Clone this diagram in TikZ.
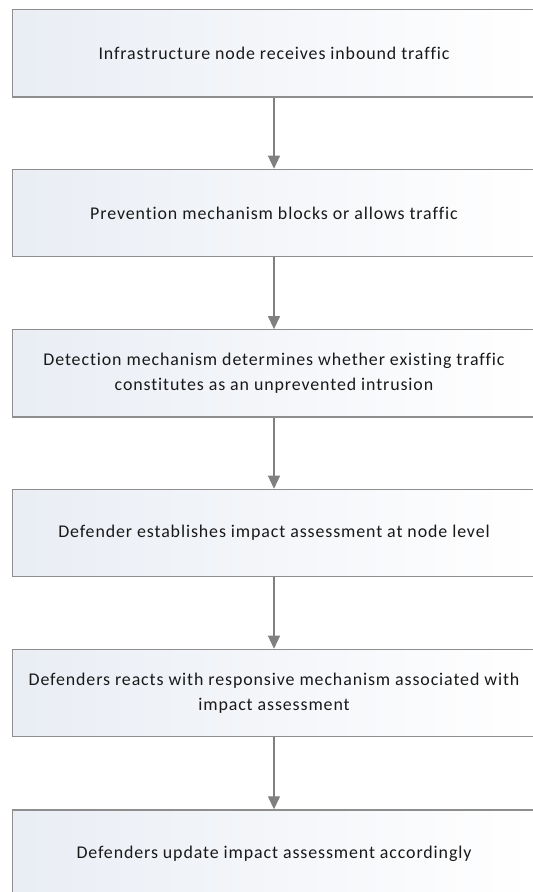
\documentclass[tikz,border=0pt]{standalone}
\usepackage{fontspec}
\setmainfont{Carlito}[Ligatures=NoCommon, LetterSpace=5]
\usetikzlibrary{arrows.meta}
\definecolor{boxline}{HTML}{8E8E8E}
\definecolor{arrowcol}{HTML}{808080}
\definecolor{shadeL}{HTML}{E9EDF4}
\tikzset{
  stepbox/.style={draw=boxline, line width=1.3pt, left color=shadeL, right color=white,
    minimum width=522.6pt, minimum height=87.3pt, inner sep=0pt, align=center,
    font=\fontsize{17.9pt}{25pt}\selectfont, text=black!90},
  conn/.style={draw=arrowcol, line width=1.3pt, -{Triangle[length=13pt,width=12pt]}}
}
\begin{document}
\begin{tikzpicture}[x=1pt,y=-1pt]
\useasboundingbox (0,0) rectangle (533,892);
\clip (0,0) rectangle (533,892);
\fill[white] (0,0) rectangle (533,892);
\node[stepbox] (b1) at (274,53.2) {Infrastructure node receives inbound traffic};
\node[stepbox] (b2) at (274,213.0) {Prevention mechanism blocks or allows traffic};
\node[stepbox] (b3) at (274,373.4) {Detection mechanism determines whether existing traffic\\constitutes as an unprevented intrusion};
\node[stepbox] (b4) at (274,533.0) {Defender establishes impact assessment at node level};
\node[stepbox] (b5) at (274,693.0) {Defenders reacts with responsive mechanism associated with\\impact assessment};
\node[stepbox] (b6) at (274,853.6) {Defenders update impact assessment accordingly};
\draw[conn] (b1) -- (b2);
\draw[conn] (b2) -- (b3);
\draw[conn] (b3) -- (b4);
\draw[conn] (b4) -- (b5);
\draw[conn] (b5) -- (b6);
\end{tikzpicture}
\end{document}
